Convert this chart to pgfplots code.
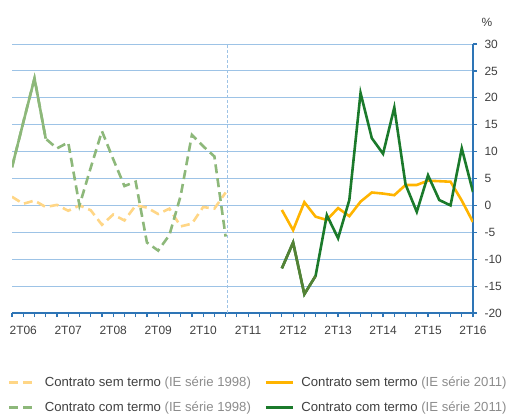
\documentclass[border=0pt]{standalone}
\usepackage{pgfplots}
\pgfplotsset{compat=1.18}
\usepackage{fontspec}
\setmainfont{Liberation Sans}
\definecolor{ylight}{HTML}{FFD686}
\definecolor{ysolid}{HTML}{FFB400}
\definecolor{glight}{HTML}{8DB87A}
\definecolor{gdark}{HTML}{1B7A2B}
\definecolor{golive}{HTML}{548235}
\definecolor{gridblue}{HTML}{9DC3E6}
\definecolor{axblue}{HTML}{2E75B6}
\definecolor{txt}{HTML}{404040}
\definecolor{txtgray}{HTML}{8C8C8C}

\pgfplotstableread{
q v
0 1.6
1 0.3
2 0.9
3 -0.3
4 0.1
5 -1.0
6 0.0
7 -0.9
8 -3.6
9 -1.7
10 -2.8
11 0.0
12 -0.4
13 -1.6
14 -0.6
15 -3.9
16 -3.4
17 -0.3
18 -0.6
19 2.4
}\semA
\pgfplotstableread{
q v
0 7.1
1 15.4
2 23.6
3 12.4
4 10.6
5 11.7
6 0.0
7 7.0
8 13.8
9 8.6
10 3.6
11 4.4
12 -6.9
13 -8.4
14 -5.5
15 1.8
16 13.1
17 11.0
18 9.1
19 -5.8
}\comA
\pgfplotstableread{
q v
24 -0.85
25 -4.6
26 0.6
27 -2.1
28 -2.7
29 -0.5
30 -2.0
31 0.7
32 2.4
33 2.2
34 1.9
35 3.8
36 3.8
37 4.6
38 4.5
39 4.4
40 0.9
41 -3.1
}\semB
\pgfplotstableread{
q v
24 -11.7
25 -6.9
26 -16.5
27 -13.1
28 -1.8
29 -6.1
30 1.0
31 20.9
32 12.5
33 9.6
34 18.2
35 3.9
36 -1.2
37 5.6
38 1.0
39 0.0
40 10.6
41 2.5
}\comB

\begin{document}
\begin{tikzpicture}[x=1bp,y=1bp]
\begin{axis}[
  name=ax,
  at={(0,0)}, anchor=south west,
  scale only axis, width=461bp, height=269bp,
  xmin=0, xmax=41, ymin=-20, ymax=30,
  axis x line*=bottom, axis y line*=right,
  axis line style={-, axblue, line width=1.8bp},
  ytick={-20,-15,...,30},
  ymajorgrids=true,
  grid style={gridblue, line width=0.9bp},
  xtick={1,5,...,41},
  xticklabels={2T06,2T07,2T08,2T09,2T10,2T11,2T12,2T13,2T14,2T15,2T16},
  minor xtick={0,...,41},
  tick align=outside,
  major tick length=4bp, minor tick length=4bp,
  tick style={axblue, line width=1.2bp},
  minor tick style={axblue, line width=1.2bp},
  tick label style={font=\fontsize{12}{14}\selectfont, text=txt},
  xticklabel style={yshift=-6bp},
  yticklabel style={anchor=west, xshift=4bp},
  /pgf/number format/assume math mode=true,
  legend columns=2,
  legend cell align=left,
  legend style={at={(-0.009,-0.230)}, anchor=north west, draw=none, fill=none,
    inner sep=0pt, font=\fontsize{13.2}{15}\selectfont, text=txt, row sep=9.7bp,
    /tikz/every odd column/.style={column sep=5.2bp},
    /tikz/every even column/.style={column sep=11.7bp}},
  legend image code/.code={\draw[#1] (0bp,0bp) -- (27bp,0bp);},
]
\addplot[gridblue, line width=0.9bp, dash pattern=on 3bp off 2bp, forget plot] coordinates {(19.2,-20) (19.2,30)};

\addplot[ylight, line width=2.6bp, dash pattern=on 9bp off 5bp] table[x=q,y=v] {\semA};
\addlegendentry{Contrato sem termo {\color{txtgray}(IE série 1998)}}
\addplot[ysolid, line width=2.6bp] table[x=q,y=v] {\semB};
\addlegendentry{Contrato sem termo {\color{txtgray}(IE série 2011)}}
\addplot[glight, line width=2.6bp, dash pattern=on 9bp off 5bp] table[x=q,y=v] {\comA};
\addlegendentry{Contrato com termo {\color{txtgray}(IE série 1998)}}
\addplot[glight, line width=2.6bp, forget plot] table[x=q,y=v, restrict expr to domain={\thisrow{q}}{0:3}] {\comA};
\addplot[gdark, line width=2.6bp] table[x=q,y=v] {\comB};
\addlegendentry{Contrato com termo {\color{txtgray}(IE série 2011)}}
\addplot[golive, line width=2.6bp, forget plot] table[x=q,y=v, restrict expr to domain={\thisrow{q}}{24:27}] {\comB};
\end{axis}
\node[font=\fontsize{12}{14}\selectfont, text=txt] at ([xshift=14bp,yshift=22bp]ax.north east) {\%};
\pgfresetboundingbox
\path (ax.south west) ++(-12,-100) rectangle ++(509,413);
\end{tikzpicture}
\end{document}
